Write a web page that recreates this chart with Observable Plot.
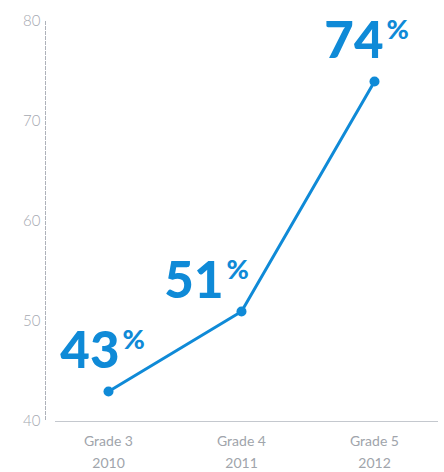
<!DOCTYPE html>
<html>
<head>
<meta charset="utf-8">
<script src="https://cdn.jsdelivr.net/npm/d3@7"></script>
<script src="https://cdn.jsdelivr.net/npm/@observablehq/plot@0.6"></script>
<style>
  html, body { margin: 0; padding: 0; background: #fff; }
  #chart svg { display: block; }
</style>
</head>
<body>
<div id="chart"></div>
<script>
const grades = ["Grade 3", "Grade 4", "Grade 5"];
const years = ["2010", "2011", "2012"];
const values = [43, 51, 74];
const yTicks = [40, 50, 60, 70, 80];

const data = grades.map((g, i) => ({grade: g, year: years[i], value: values[i]}));
const blue = "#0f8ad7";
const font = "Lato, 'Open Sans', sans-serif";

// per-label offsets (styling, not data)
const labelOffsets = [[11, -24], [-18, -14], [9, -24]];

const labelMarks = data.flatMap((d, i) => {
  const [dx, dy] = labelOffsets[i];
  return [
    Plot.text([d], {x: "grade", y: "value", text: d => String(d.value),
      textAnchor: "end", lineAnchor: "bottom", dx, dy,
      fill: blue, fontSize: 51, fontWeight: 900, fontFamily: font}),
    Plot.text([d], {x: "grade", y: "value", text: () => "%",
      textAnchor: "start", lineAnchor: "bottom", dx: dx + 3, dy: dy - 19,
      fill: blue, fontSize: 27, fontWeight: 900, fontFamily: font})
  ];
});

const chart = Plot.plot({
  width: 444,
  height: 472,
  marginLeft: 45,
  marginRight: 7,
  marginTop: 21,
  marginBottom: 51,
  style: {fontFamily: font, background: "#fff"},
  x: {type: "point", domain: grades, padding: 0.47},
  y: {domain: [40, 80]},
  marks: [
    Plot.frame({anchor: "left", stroke: "#aeb2ba", strokeDasharray: "3,2"}),
    Plot.frame({anchor: "bottom", stroke: "#c4c8ce", insetLeft: 10}),
    Plot.axisY({ticks: yTicks, tickSize: 0, tickPadding: 5, fontSize: 15, fill: "#a4a8b0", label: null, fontWeight: 300}),
    Plot.axisX({tickSize: 0, tickPadding: 9, fontSize: 14, fill: "#a0a4ab", label: null, lineHeight: 1.55,
      tickFormat: g => g + "\n" + years[grades.indexOf(g)]}),
    Plot.line(data, {x: "grade", y: "value", stroke: blue, strokeWidth: 3}),
    Plot.dot(data, {x: "grade", y: "value", fill: blue, r: 5}),
    ...labelMarks
  ]
});
document.getElementById("chart").append(chart);
</script>
</body>
</html>
